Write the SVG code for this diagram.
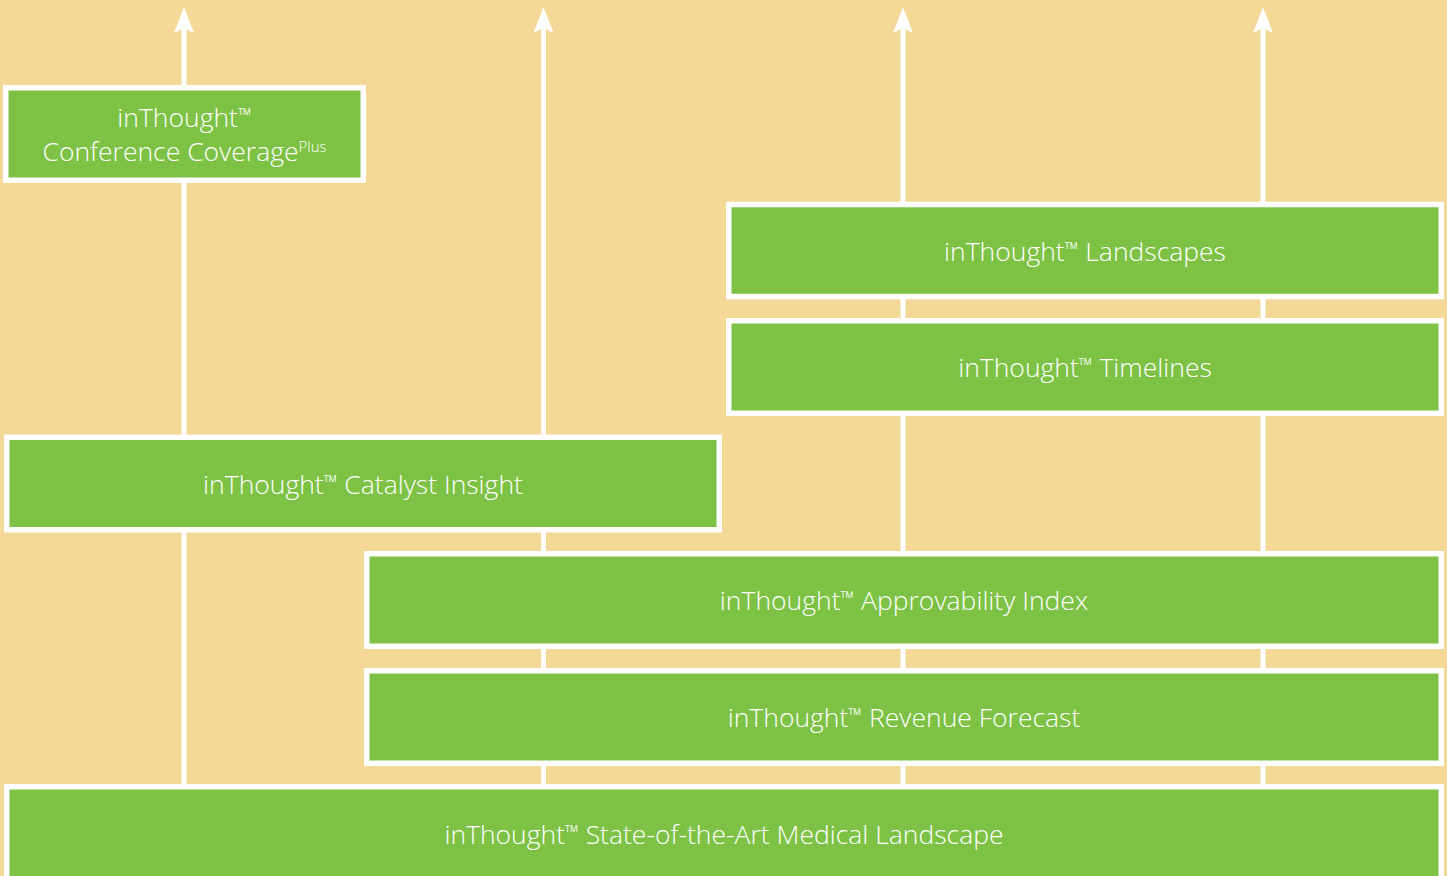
<svg xmlns="http://www.w3.org/2000/svg" width="1447" height="876" viewBox="0 0 1447 876">
<style>
.bg{fill:#F3D898}
.box{fill:#7DC244;stroke:#FFFFFF;stroke-width:5.5}
.lbl{fill:#FFFFFF;font-family:"Open Sans","Liberation Sans",sans-serif;font-size:26.5px;font-weight:300;text-anchor:middle}
.tm{font-size:19px}
.ln{stroke:#FFFFFF;stroke-width:5;fill:none}
.ah{fill:#FFFFFF}
</style>
<rect class="bg" x="0" y="0" width="1447" height="876"/>
<g id="connectors">
<line class="ln" x1="184" y1="26" x2="184" y2="787"/>
<line class="ln" x1="543.5" y1="26" x2="543.5" y2="787"/>
<line class="ln" x1="903" y1="26" x2="903" y2="787"/>
<line class="ln" x1="1263" y1="26" x2="1263" y2="787"/>
<path class="ah" d="M184,7 L194,33 L184,28 L174,33 Z"/>
<path class="ah" d="M543.5,7 L553.5,33 L543.5,28 L533.5,33 Z"/>
<path class="ah" d="M903,7 L913,33 L903,28 L893,33 Z"/>
<path class="ah" d="M1263,7 L1273,33 L1263,28 L1253,33 Z"/>
</g>
<g id="conference">
<rect class="box" x="5.75" y="87.75" width="357.5" height="92.5"/>
<text class="lbl" x="184.5" y="127">inThought<tspan class="tm" dy="-5">™</tspan></text>
<text class="lbl" x="184.5" y="161">Conference Coverage<tspan style="font-size:15px" dy="-9">Plus</tspan></text>
</g>
<g id="landscapes">
<rect class="box" x="728.75" y="204.5" width="712.5" height="92"/>
<text class="lbl" x="1085" y="261">inThought<tspan class="tm" dy="-5">™</tspan><tspan dy="5"> Landscapes</tspan></text>
</g>
<g id="timelines">
<rect class="box" x="728.75" y="320.75" width="712.5" height="92.5"/>
<text class="lbl" x="1085" y="377">inThought<tspan class="tm" dy="-5">™</tspan><tspan dy="5"> Timelines</tspan></text>
</g>
<g id="catalyst">
<rect class="box" x="6.75" y="437.25" width="712.5" height="92.5"/>
<text class="lbl" x="363" y="494">inThought<tspan class="tm" dy="-5">™</tspan><tspan dy="5"> Catalyst Insight</tspan></text>
</g>
<g id="approvability">
<rect class="box" x="366.75" y="553.75" width="1074.5" height="92.5"/>
<text class="lbl" x="904" y="610">inThought<tspan class="tm" dy="-5">™</tspan><tspan dy="5"> Approvability Index</tspan></text>
</g>
<g id="revenue">
<rect class="box" x="366.75" y="670.75" width="1074.5" height="92.5"/>
<text class="lbl" x="904" y="727">inThought<tspan class="tm" dy="-5">™</tspan><tspan dy="5"> Revenue Forecast</tspan></text>
</g>
<g id="sota">
<rect class="box" x="6.75" y="786.75" width="1434.5" height="100"/>
<text class="lbl" x="724" y="844">inThought<tspan class="tm" dy="-5">™</tspan><tspan dy="5"> State-of-the-Art Medical Landscape</tspan></text>
</g>
</svg>
